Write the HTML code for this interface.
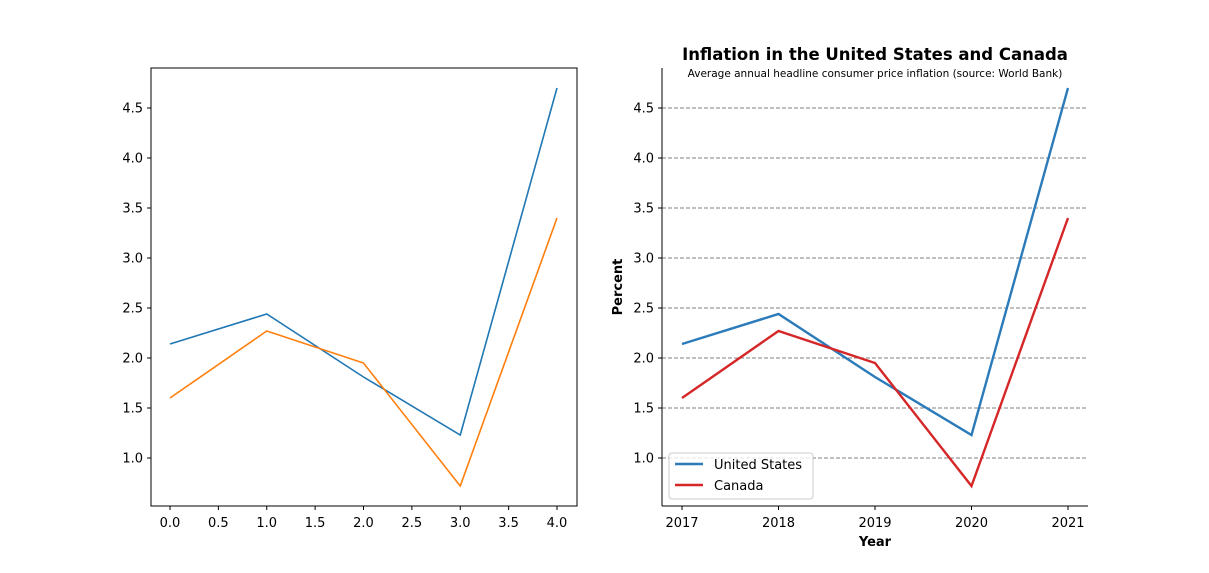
<!DOCTYPE html>
<html><head><meta charset="utf-8"><style>
body{margin:0;background:#fff;}
svg{font-family:"DejaVu Sans","Liberation Sans",sans-serif;}
</style></head><body>
<svg id="fig" width="1209" height="568" xmlns="http://www.w3.org/2000/svg">
<rect width="1209" height="568" fill="#fff"/>
<g id="left"></g>
<g id="right"></g>
</svg>
<script>
const years = ["2017","2018","2019","2020","2021"];
const usValues = [2.14, 2.44, 1.81, 1.23, 4.70];
const caValues = [1.60, 2.27, 1.95, 0.72, 3.40];
const yTicks = [1.0, 1.5, 2.0, 2.5, 3.0, 3.5, 4.0, 4.5];
const leftXTicks = [0, 0.5, 1, 1.5, 2, 2.5, 3, 3.5, 4];

const NS = "http://www.w3.org/2000/svg";
function mk(tag, attrs, parent, text){
  const e = document.createElementNS(NS, tag);
  for (const k in attrs) e.setAttribute(k, attrs[k]);
  if (text !== undefined) e.textContent = text;
  parent.appendChild(e);
  return e;
}
const plotTop=68, plotBot=506;
function y(v){ return 458 - (v-1.0)*100; }

// LEFT
const L = document.getElementById('left');
function xl(v){ return 170 + v*96.75; }
yTicks.forEach(t=>{
  mk('line',{x1:147,x2:151,y1:y(t),y2:y(t),stroke:'#000'},L);
  const tx = mk('text',{x:143,y:y(t)+4.5,'text-anchor':'end','font-size':13},L,t.toFixed(1));
  
  
});
leftXTicks.forEach(t=>{
  mk('line',{x1:xl(t),x2:xl(t),y1:plotBot,y2:plotBot+4,stroke:'#000'},L);
  const tx = mk('text',{x:xl(t),y:plotBot+21,'text-anchor':'middle','font-size':13},L,t.toFixed(1));
  
  
});
[[usValues,'#1f77b4','left-us-line'],[caValues,'#ff7f0e','left-canada-line']].forEach(([vals,c,n])=>{
  const p = mk('polyline',{points:vals.map((v,i)=>xl(i)+','+y(v)).join(' '),fill:'none',stroke:c,'stroke-width':1.6},L);
  
  
});
mk('rect',{x:151,y:plotTop,width:426,height:plotBot-plotTop,fill:'none',stroke:'#000','stroke-width':1},L);

// RIGHT
const R = document.getElementById('right');
function xr(i){ return 682 + i*96.5; }
yTicks.forEach(t=>{
  const g = mk('line',{x1:662,x2:1088,y1:y(t),y2:y(t),stroke:'#808080','stroke-dasharray':'4,2','stroke-width':0.9},R);
  
  
  mk('line',{x1:658,x2:662,y1:y(t),y2:y(t),stroke:'#000'},R);
  const tx = mk('text',{x:654,y:y(t)+4.5,'text-anchor':'end','font-size':13},R,t.toFixed(1));
  
  
});
years.forEach((yr,i)=>{
  mk('line',{x1:xr(i),x2:xr(i),y1:plotBot,y2:plotBot+4,stroke:'#000'},R);
  const tx = mk('text',{x:xr(i),y:plotBot+21,'text-anchor':'middle','font-size':13},R,yr);
  
  
});
[[usValues,'#2b7bba','us-line'],[caValues,'#d62728','canada-line']].forEach(([vals,c,n])=>{
  const p = mk('polyline',{points:vals.map((v,i)=>xr(i)+','+y(v)).join(' '),fill:'none',stroke:c,'stroke-width':2.4},R);
  
  
});
mk('line',{x1:662,x2:662,y1:plotTop,y2:plotBot,stroke:'#000'},R);
mk('line',{x1:662,x2:1088,y1:plotBot,y2:plotBot,stroke:'#000'},R);
let t;
t = mk('text',{x:875,y:60,'text-anchor':'middle','font-size':16.5,'font-weight':'bold'},R,'Inflation in the United States and Canada');
 
t = mk('text',{x:875,y:77,'text-anchor':'middle','font-size':10.5},R,'Average annual headline consumer price inflation (source: World Bank)');
 
t = mk('text',{x:875,y:546,'text-anchor':'middle','font-size':13,'font-weight':'bold'},R,'Year');
 
t = mk('text',{x:622,y:287,'text-anchor':'middle','font-size':13,'font-weight':'bold',transform:'rotate(-90 622 287)'},R,'Percent');
 
const lg = mk('g',{},R);
 
mk('rect',{x:669,y:453,width:144,height:46,rx:3,fill:'#fff','fill-opacity':0.8,stroke:'#ccc'},lg);
mk('line',{x1:675,x2:703,y1:464,y2:464,stroke:'#2b7bba','stroke-width':2.4},lg);
t = mk('text',{x:714,y:469,'font-size':13},lg,'United States');
 
mk('line',{x1:675,x2:703,y1:485,y2:485,stroke:'#d62728','stroke-width':2.4},lg);
t = mk('text',{x:714,y:490,'font-size':13},lg,'Canada');
 
</script>
</body></html>
